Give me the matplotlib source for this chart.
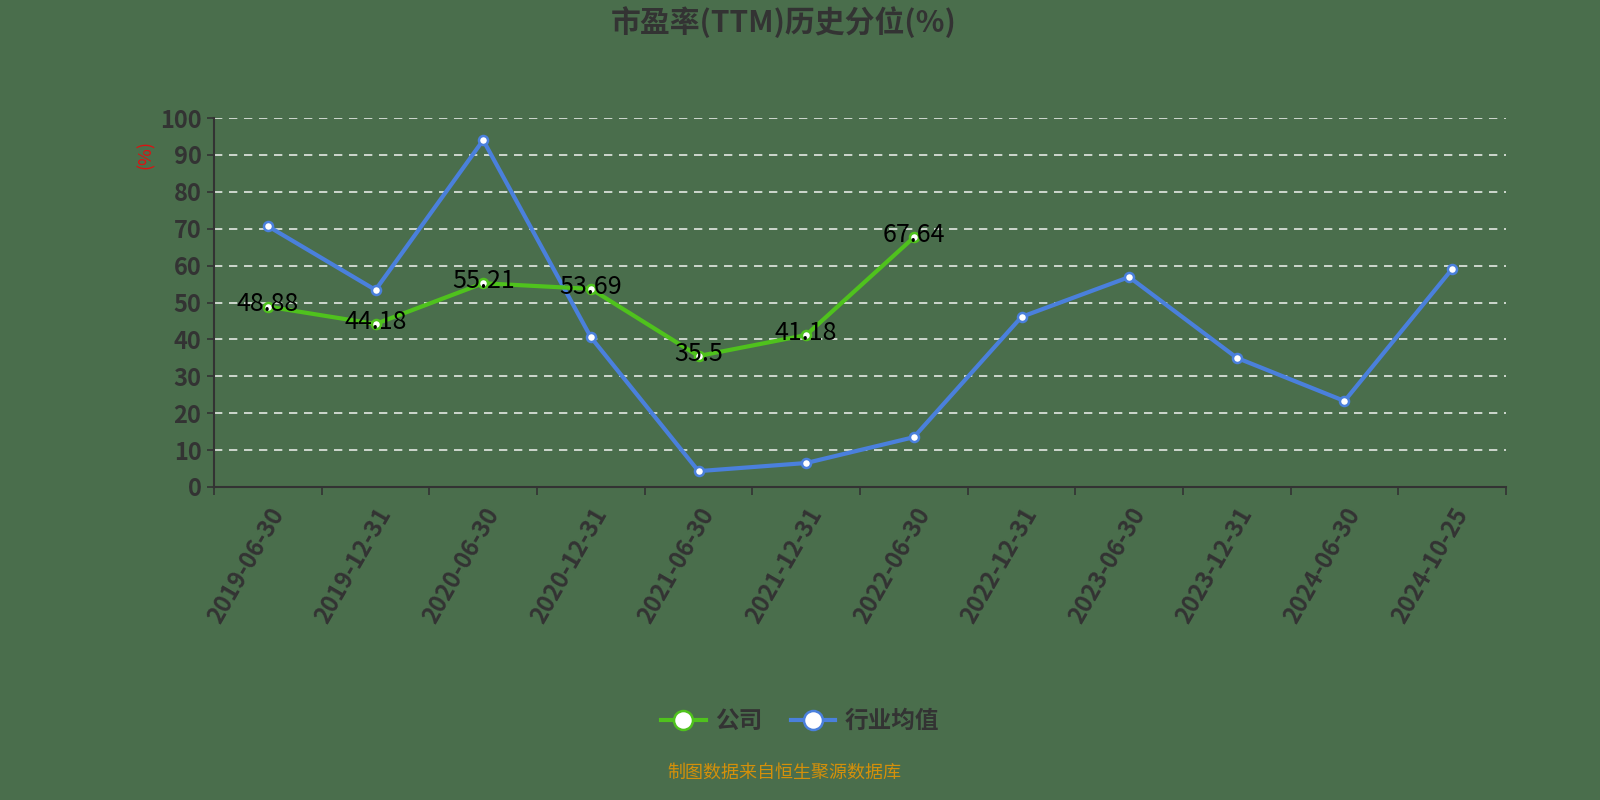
import matplotlib
matplotlib.use("Agg")
import matplotlib.pyplot as plt

plt.rcParams['font.family'] = ['Noto Sans CJK SC', 'DejaVu Sans']

# data
dates = ["2019-06-30", "2019-12-31", "2020-06-30", "2020-12-31", "2021-06-30", "2021-12-31",
         "2022-06-30", "2022-12-31", "2023-06-30", "2023-12-31", "2024-06-30", "2024-10-25"]
company = [48.88, 44.18, 55.21, 53.69, 35.5, 41.18, 67.64]
industry = [70.7, 53.4, 94.0, 40.6, 4.3, 6.5, 13.5, 46.1, 56.9, 35.0, 23.3, 59.1]

BG = "#4a6e4c"
GREEN = "#4fc21d"
BLUE = "#4a80dc"
DARK = "#333333"

fig = plt.figure(figsize=(16, 8), dpi=100, facecolor=BG)
ax = fig.add_axes([0.13375, 0.39125, 0.8075, 0.46125])
ax.set_facecolor(BG)

x_all = list(range(len(dates)))
x_comp = x_all[:len(company)]

ax.plot(x_all, industry, color=BLUE, lw=3, marker='o', ms=6.5, mfc='white',
        mec=BLUE, mew=1.8, label="行业均值", zorder=3)
ax.plot(x_comp, company, color=GREEN, lw=3, marker='o', ms=6.5, mfc='white',
        mec=GREEN, mew=1.8, label="公司", zorder=4)

for xi, v in zip(x_comp, company):
    ax.text(xi, v + 0.6, f"{v:g}", ha='center', va='center', fontsize=18,
            color='black', zorder=5)

ax.set_xlim(-0.5, len(dates) - 0.5)
ax.set_ylim(0, 100)
ax.set_yticks(range(0, 101, 10))
ax.tick_params(axis='y', labelsize=17, colors=DARK, length=5, width=1.2, pad=4)
for lab in ax.get_yticklabels():
    lab.set_color(DARK)
    lab.set_fontweight('bold')

ax.set_xticks(x_all)
ax.set_xticklabels(dates, rotation=60, ha='right', rotation_mode='anchor',
                   fontsize=17, color=DARK, fontweight='bold')
ax.tick_params(axis='x', which='major', length=0, pad=12)
ax.set_xticks([i - 0.5 for i in range(len(dates) + 1)], minor=True)
ax.tick_params(axis='x', which='minor', length=6, width=1.2, color=DARK)

ax.grid(axis='y', color='white', linestyle=(0, (5, 4)), lw=1.2, alpha=0.85)
ax.set_axisbelow(True)
for s in ['top', 'right']:
    ax.spines[s].set_visible(False)
for s in ['left', 'bottom']:
    ax.spines[s].set_color(DARK)
    ax.spines[s].set_linewidth(1.5)

ax.set_ylabel("(%)", color='#dd1111', fontsize=13, labelpad=2)
ax.yaxis.set_label_coords(-0.046, 0.9)

fig.text(0.49, 0.972, "市盈率(TTM)历史分位(%)", ha='center', va='center',
         fontsize=21.5, fontweight='bold', color=DARK)

leg = fig.legend(handles=ax.get_lines()[::-1], loc='center', bbox_to_anchor=(0.5, 0.099),
                 ncol=2, frameon=False, markerscale=2.1,
                 handlelength=1.9, columnspacing=1.2, handletextpad=0.4,
                 prop={'weight': 'bold', 'size': 17})
for t in leg.get_texts():
    t.set_color(DARK)

fig.text(0.49, 0.034, "制图数据来自恒生聚源数据库", ha='center', va='center',
         fontsize=13, color='#d4900a')

fig.savefig("out.png", dpi=100, facecolor=BG)
